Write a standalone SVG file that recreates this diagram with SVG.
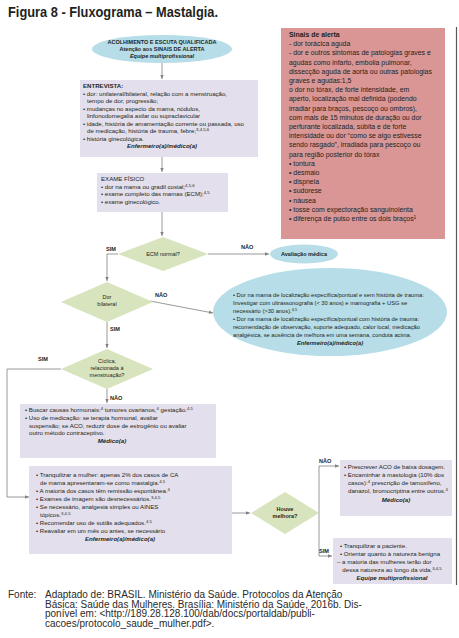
<svg xmlns="http://www.w3.org/2000/svg" width="459" height="638" viewBox="0 0 459 638">
<defs>
<style>
text{font-family:"Liberation Sans",Arial,sans-serif;fill:#231f20}
.title{font-size:15px;font-weight:bold}
.r{font-size:6.9px}
.e{font-size:6.1px}
.s{font-size:5.5px}
.el{font-size:5.75px}
.lb{font-size:5.6px;font-weight:bold}
.bd{font-weight:bold}
.it{font-style:italic;font-weight:bold}
.c{text-anchor:middle}
.sup{font-size:70%;baseline-shift:super}
.ft{font-size:10px;fill:#2a2a2a}
.box{fill:#e4dfec}
.ell{fill:#b7dde8}
.dia{fill:#d7e4bd}
.con{fill:none;stroke:#808080;stroke-width:0.8}
</style>
<marker id="ah" viewBox="0 0 6 6" refX="6" refY="3" markerWidth="4" markerHeight="4" orient="auto" markerUnits="userSpaceOnUse"><path d="M0,0.5 L6,3 L0,5.5 z" fill="#808080"/></marker>
</defs>
<rect width="459" height="638" fill="#ffffff"/>
<text class="title" x="8" y="17" textLength="210" lengthAdjust="spacingAndGlyphs">Figura 8 - Fluxograma – Mastalgia.</text>
<line x1="456.5" y1="27" x2="456.5" y2="585" stroke="#5a5a5a" stroke-width="1.2"/>

<g id="connectors">
<path class="con" d="M162,63 V79" marker-end="url(#ah)"/>
<path class="con" d="M162,157 V172" marker-end="url(#ah)"/>
<path class="con" d="M162,212 V236" marker-end="url(#ah)"/>
<path class="con" d="M208,254 H269" marker-end="url(#ah)"/>
<path class="con" d="M118,254 H107 V281" marker-end="url(#ah)"/>
<path class="con" d="M150,301 L213,313" marker-end="url(#ah)"/>
<path class="con" d="M107,322 V348" marker-end="url(#ah)"/>
<path class="con" d="M61,369 H7 V497 H29" marker-end="url(#ah)"/>
<path class="con" d="M107,389 V403" marker-end="url(#ah)"/>
<path class="con" d="M232,513 H250" marker-end="url(#ah)"/>
<path class="con" d="M319,466 V556"/>
<path class="con" d="M319,466 H339" marker-end="url(#ah)"/>
<path class="con" d="M319,556 H332" marker-end="url(#ah)"/>
<text class="lb" x="241" y="249">NÃO</text>
<text class="lb" x="106" y="251">SIM</text>
<text class="lb" x="155" y="297">NÃO</text>
<text class="lb" x="110" y="331">SIM</text>
<text class="lb" x="38" y="361">SIM</text>
<text class="lb" x="110" y="400">NÃO</text>
<text class="lb" x="319" y="463">NÃO</text>
<text class="lb" x="319" y="553">SIM</text>
</g>

<g id="acolhimento">
<ellipse class="ell" cx="162" cy="49" rx="70" ry="14"/>
<text class="s c bd" x="162" y="44">ACOLHIMENTO E ESCUTA QUALIFICADA</text>
<text class="s c bd" x="162" y="51">Atenção aos SINAIS DE ALERTA</text>
<text class="s c it" x="162" y="58">Equipe multiprofissional</text>
</g>

<g id="sinais-alerta">
<rect x="281" y="28" width="164" height="211" fill="#d99694"/>
<text class="r" x="289" y="37"><tspan class="bd">Sinais de alerta</tspan></text>
<text class="r" x="289" y="46.2">- dor torácica aguda</text>
<text class="r" x="289" y="55.4">- dor e outros sintomas de patologias graves e</text>
<text class="r" x="289" y="64.6">agudas como infarto, embolia pulmonar,</text>
<text class="r" x="289" y="73.8">dissecção aguda de aorta ou outras patologias</text>
<text class="r" x="289" y="83">graves e agudas:1,5</text>
<text class="r" x="289" y="92.2">o dor no tórax, de forte intensidade, em</text>
<text class="r" x="289" y="101.4">aperto, localização mal definida (podendo</text>
<text class="r" x="289" y="110.6">irradiar para braços, pescoço ou ombros),</text>
<text class="r" x="289" y="119.8">com mais de 15 minutos de duração ou dor</text>
<text class="r" x="289" y="129">perfurante localizada, súbita e de forte</text>
<text class="r" x="289" y="138.2">intensidade ou dor “como se algo estivesse</text>
<text class="r" x="289" y="147.4">sendo rasgado”, irradiada para pescoço ou</text>
<text class="r" x="289" y="156.6">para região posterior do tórax</text>
<text class="r" x="289" y="165.8">• tontura</text>
<text class="r" x="289" y="175">• desmaio</text>
<text class="r" x="289" y="184.2">• dispneia</text>
<text class="r" x="289" y="193.4">• sudorese</text>
<text class="r" x="289" y="202.6">• náusea</text>
<text class="r" x="289" y="211.8">• tosse com expectoração sanguinolenta</text>
<text class="r" x="289" y="221">• diferença de pulso entre os dois braços<tspan class="sup">1</tspan></text>
</g>

<g id="entrevista">
<rect class="box" x="80" y="80" width="178" height="77"/>
<text class="e bd" x="83" y="88">ENTREVISTA:</text>
<text class="e" x="83" y="95.5">• dor: unilateral/bilateral, relação com a menstruação,</text>
<text class="e" x="87" y="103">tempo de dor, progressão;</text>
<text class="e" x="83" y="110.5">• mudanças no aspecto da mama, nódulos,</text>
<text class="e" x="87" y="118">linfonodomegalia axilar ou supraclavicular</text>
<text class="e" x="83" y="125.5">• idade, história de amamentação corrente ou passada, uso</text>
<text class="e" x="87" y="133">de medicação, história de trauma, febre;<tspan class="sup">3,4,5,6</tspan></text>
<text class="e" x="83" y="140.5">• história ginecológica.</text>
<text class="e c it" x="162" y="148">Enfermeiro(a)/médico(a)</text>
</g>

<g id="exame-fisico">
<rect class="box" x="97" y="173" width="131" height="39"/>
<text class="e" x="101" y="181">EXAME FÍSICO</text>
<text class="e" x="101" y="188.5">• dor na mama ou gradil costal;<tspan class="sup">4,5,6</tspan></text>
<text class="e" x="101" y="196">• exame completo das mamas (ECM);<tspan class="sup">4,5</tspan></text>
<text class="e" x="101" y="203.5">• exame ginecológico.</text>
</g>

<g id="ecm-normal">
<path class="dia" d="M163,237 L208,254 L163,271 L118,254 Z"/>
<text class="s c" x="163" y="256">ECM normal?</text>
</g>

<g id="avaliacao-medica">
<ellipse class="ell" cx="304" cy="254" rx="34" ry="9.5"/>
<text class="s c bd" x="304" y="256">Avaliação médica</text>
</g>

<g id="dor-bilateral">
<path class="dia" d="M107,282 L153,302 L107,322 L61,302 Z"/>
<text class="s c" x="107" y="299">Dor</text>
<text class="s c" x="107" y="306">bilateral</text>
</g>

<g id="dor-localizada">
<ellipse class="ell" cx="330" cy="312" rx="117" ry="44"/>
<text class="el" x="233" y="297">• Dor na mama de localização específica/pontual e sem história de trauma:</text>
<text class="el" x="233" y="305">Investigar com ultrassonografia (&lt; 30 anos) e mamografia + USG se</text>
<text class="el" x="233" y="313">necessário (&gt;30 anos).<tspan class="sup">4,5</tspan></text>
<text class="el" x="233" y="321">• Dor na mama de localização específica/pontual com história de trauma:</text>
<text class="el" x="233" y="329">recomendação de observação, suporte adequado, calor local, medicação</text>
<text class="el" x="233" y="337">analgésica, se ausência de melhora em uma semana, conduta acima.</text>
<text class="el c it" x="330" y="345">Enfermeiro(a)/médico(a)</text>
</g>

<g id="ciclica">
<path class="dia" d="M107,349 L153,369 L107,389 L61,369 Z"/>
<text class="s c" x="107" y="363">Cíclica,</text>
<text class="s c" x="107" y="370">relacionada à</text>
<text class="s c" x="107" y="377">menstruação?</text>
</g>

<g id="causas-hormonais">
<rect class="box" x="20" y="404" width="196" height="54"/>
<text class="e" x="25" y="412">• Buscar causas hormonais:<tspan class="sup">4</tspan> tumores ovarianos,<tspan class="sup">4</tspan> gestação.<tspan class="sup">4,5</tspan></text>
<text class="e" x="25" y="420">• Uso de medicação: se terapia hormonal, avaliar</text>
<text class="e" x="29" y="427.5">suspensão; se ACO, reduzir dose de estrogênio ou avaliar</text>
<text class="e" x="29" y="435">outro método contraceptivo.</text>
<text class="e c it" x="112" y="443">Médico(a)</text>
</g>

<g id="tranquilizar-mulher">
<rect class="box" x="29" y="466" width="203" height="88"/>
<text class="e" x="36" y="477">• Tranquilizar a mulher: apenas 2% dos casos de CA</text>
<text class="e" x="40" y="485">de mama apresentaram-se como mastalgia.<tspan class="sup">4,5</tspan></text>
<text class="e" x="36" y="493">• A maioria dos casos têm remissão espontânea.<tspan class="sup">4</tspan></text>
<text class="e" x="36" y="501">• Exames de imagem são desnecessários.<tspan class="sup">3,4,5</tspan></text>
<text class="e" x="36" y="509">• Se necessário, analgesia simples ou AINES</text>
<text class="e" x="40" y="517">tópicos.<tspan class="sup">3,4,5</tspan></text>
<text class="e" x="36" y="525">• Recomendar uso de sutiãs adequados.<tspan class="sup">4,5</tspan></text>
<text class="e" x="36" y="533">• Reavaliar em um mês ou antes, se necessário</text>
<text class="e c it" x="120" y="541">Enfermeiro(a)/médico(a)</text>
</g>

<g id="houve-melhora">
<path class="dia" d="M285,492 L319,513 L285,534 L251,513 Z"/>
<text class="s c bd" x="285" y="511">Houve</text>
<text class="s c bd" x="285" y="518">melhora?</text>
</g>

<g id="prescrever-aco">
<rect class="box" x="340" y="460" width="112" height="56"/>
<text class="e" x="344" y="469">• Prescrever ACO de baixa dosagem.</text>
<text class="e" x="344" y="477">• Encaminhar à mastologia (10% dos</text>
<text class="e" x="348" y="485">casos):<tspan class="sup">4</tspan> prescrição de tamoxifeno,</text>
<text class="e" x="348" y="493">danazol, bromocriptina entre outros.<tspan class="sup">4</tspan></text>
<text class="e c it" x="396" y="502">Médico(a)</text>
</g>

<g id="tranquilizar-paciente">
<rect class="box" x="333" y="538" width="119" height="46"/>
<text class="e" x="340" y="548">• Tranquilizar a paciente.</text>
<text class="e" x="340" y="556">• Orientar quanto à natureza benigna</text>
<text class="e" x="337" y="564">– a maioria das mulheres terão dor</text>
<text class="e c" x="392" y="572">dessa natureza ao longo da vida.<tspan class="sup">3,4,5</tspan></text>
<text class="e c it" x="392" y="580">Equipe multiprofissional</text>
</g>

<g id="fonte">
<text class="ft" x="8" y="598">Fonte:</text>
<text class="ft" x="45" y="598">Adaptado de: BRASIL. Ministério da Saúde. Protocolos da Atenção</text>
<text class="ft" x="45" y="607.5">Básica: Saúde das Mulheres. Brasília: Ministério da Saúde, 2016b. Dis-</text>
<text class="ft" x="45" y="617">ponível em: &lt;http://189.28.128.100/dab/docs/portaldab/publi-</text>
<text class="ft" x="45" y="626.5">cacoes/protocolo_saude_mulher.pdf&gt;.</text>
</g>
</svg>
